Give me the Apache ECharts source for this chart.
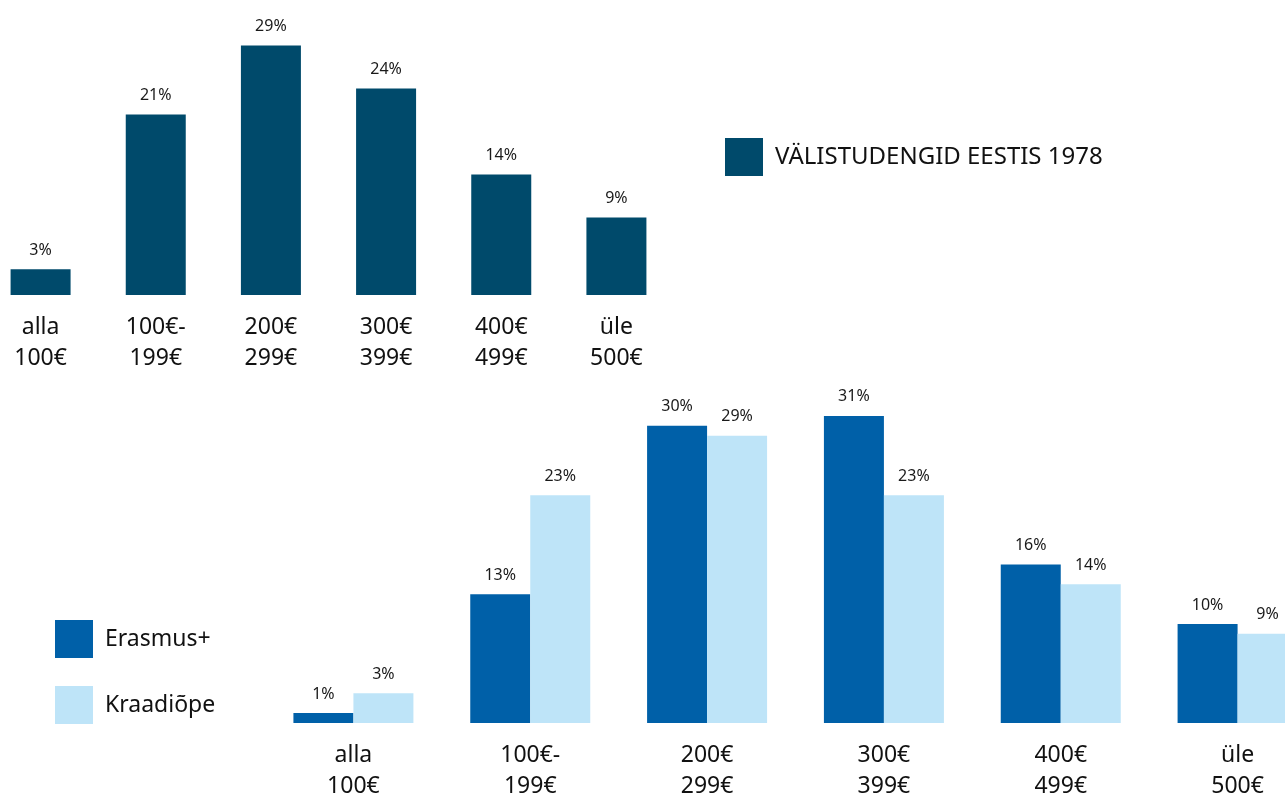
<!DOCTYPE html>
<html>
<head>
<meta charset="utf-8">
<script src="https://cdn.jsdelivr.net/npm/echarts@6/dist/echarts.min.js"></script>
<style>html,body{margin:0;padding:0;background:#fff;}#c{width:1285px;height:794px;}</style>
</head>
<body>
<div id="c"></div>
<script>
const categories = ['alla\n100€', '100€-\n199€', '200€\n299€', '300€\n399€', '400€\n499€', 'üle\n500€'];
const seriesTopName = 'VÄLISTUDENGID EESTIS 1978';
const topValues = [3, 21, 29, 24, 14, 9];
const erasmusName = 'Erasmus+';
const erasmusValues = [1, 13, 30, 31, 16, 10];
const kraadName = 'Kraadiõpe';
const kraadValues = [3, 23, 29, 23, 14, 9];

const FONT = '"Noto Sans", sans-serif';
const chart = echarts.init(document.getElementById('c'), null, {renderer: 'canvas'});
const lbl = {show: true, position: 'top', distance: 11, formatter: '{c}%', color: '#1a1a1a', fontSize: 16, fontFamily: FONT};
const xAx = (gi) => ({
  type: 'category', gridIndex: gi, data: categories,
  axisLine: {show: false}, axisTick: {show: false},
  axisLabel: {color: '#111', fontSize: 23, lineHeight: 31, margin: 17, fontFamily: FONT, interval: 0}
});
const yAx = (gi, max) => ({type: 'value', gridIndex: gi, min: 0, max: max, show: false, splitLine: {show: false}});

chart.setOption({
  animation: false,
  backgroundColor: '#fff',
  textStyle: {fontFamily: FONT},
  grid: [
    {left: -17, width: 691, top: 37, bottom: 499, containLabel: false, outerBoundsMode: 'none'},
    {left: 265, width: 1061, top: 406, bottom: 71, containLabel: false, outerBoundsMode: 'none'}
  ],
  xAxis: [xAx(0), xAx(1)],
  yAxis: [yAx(0, 30), yAx(1, 32)],
  legend: [
    {data: [seriesTopName], left: 725, top: 138, padding: 0, itemWidth: 38, itemHeight: 38, icon: 'rect',
     textStyle: {fontSize: 24, color: '#111', fontFamily: FONT, padding: [0, 0, 0, 7]}},
    {data: [erasmusName, kraadName], orient: 'vertical', left: 55, top: 620, padding: 0, itemWidth: 38, itemHeight: 38, itemGap: 28, icon: 'rect',
     textStyle: {fontSize: 23, color: '#111', fontFamily: FONT, padding: [0, 0, 0, 7]}}
  ],
  series: [
    {name: seriesTopName, type: 'bar', xAxisIndex: 0, yAxisIndex: 0, data: topValues, barWidth: 60,
     itemStyle: {color: '#004a6b'}, label: lbl},
    {name: erasmusName, type: 'bar', xAxisIndex: 1, yAxisIndex: 1, data: erasmusValues, barWidth: 60, barGap: '0%',
     itemStyle: {color: '#0060a8'}, label: lbl},
    {name: kraadName, type: 'bar', xAxisIndex: 1, yAxisIndex: 1, data: kraadValues, barWidth: 60, barGap: '0%',
     itemStyle: {color: '#bee4f8'}, label: lbl}
  ]
});
</script>
</body>
</html>
